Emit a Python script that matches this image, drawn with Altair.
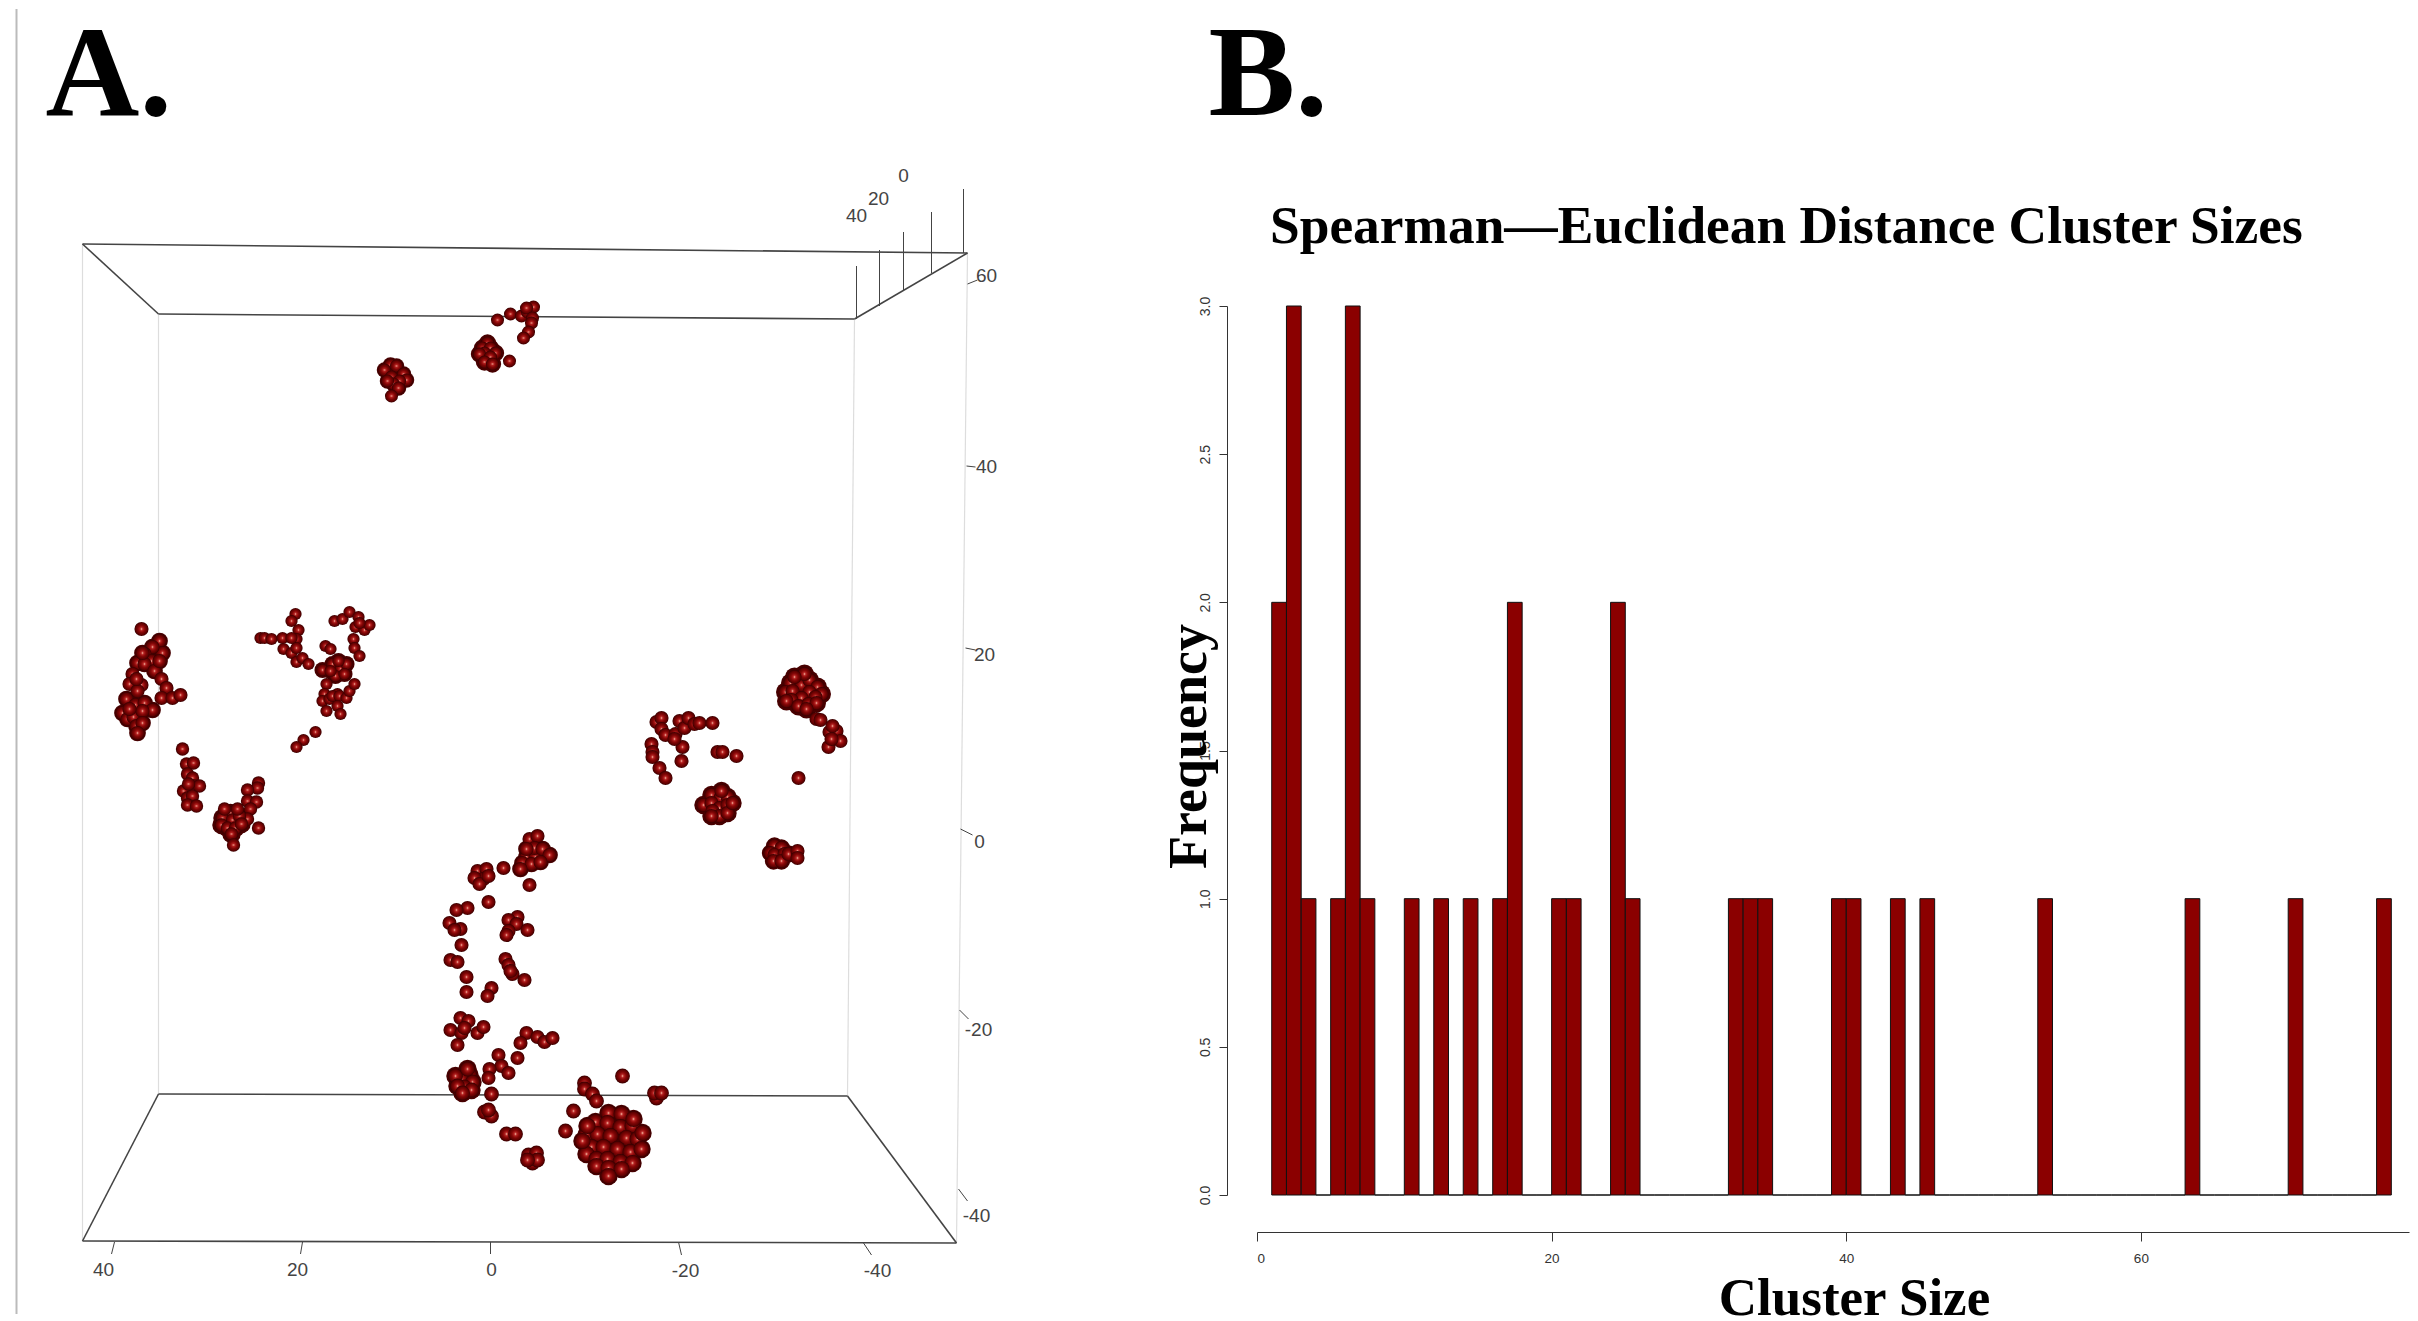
import altair as alt
import pandas as pd

# ---------- Panel B: cluster size histogram ----------
bin_start = list(range(1, 77))
nonzero = {1: 2, 2: 3, 3: 1, 5: 1, 6: 3, 7: 1, 10: 1, 12: 1, 14: 1, 16: 1, 17: 2, 20: 1, 21: 1,
           24: 2, 25: 1, 32: 1, 33: 1, 34: 1, 39: 1, 40: 1, 43: 1, 45: 1, 53: 1, 63: 1, 70: 1, 76: 1}
freq = [nonzero.get(b, 0) for b in bin_start]

# ---------- Panel A: projected 3-D positions of the beads, by cluster ----------
top_x = [-0.7,-2.0,-3.1,-3.7,-4.3,-3.6,-4.2,-4.1,-3.8,-3.3, 0.3,0.8,0.0,-0.5,0.6,1.1,0.0,0.6,-0.2,-1.9,
         10.0,10.6,9.4,9.9,8.7,8.4,9.1,9.7,10.3,9.2,9.9]
top_y = [51.3,51.9,51.7,52.1,52.6,52.5,51.5,51.0,50.1,49.5, 49.0,48.5,48.5,48.0,48.0,47.9,47.6,47.1,46.9,47.2,
         46.8,46.3,46.7,45.6,45.9,45.3,45.2,44.9,45.2,44.5,43.7]

left_x = [34.9, 33.1,32.8,33.8,34.6,35.3,33.9,34.6,33.6,33.1,34.8, 35.8,36.1,34.9,35.3,35.4,
          32.9,32.4,32.9,31.8,31.0, 36.4,36.8,35.5,34.6,33.8,36.3,35.7,34.8,35.4,34.8,35.3,36.1]
left_y = [20.4, 19.2,18.0,18.6,17.9,17.0,17.2,16.9,16.2,17.2,18.0, 15.9,14.9,14.8,14.2,15.4,
          15.4,14.5,13.5,13.5,13.8, 13.4,12.0,12.8,13.0,12.3,11.4,11.6,12.2,10.7,11.0,10.0,12.4]

mid_x = [19.5,19.9, 23.0,22.6,21.9,20.8,19.2,19.4,20.7,19.9,19.4,19.4,18.8,18.2,19.9,
         15.6,14.8,14.1,13.2,13.5,12.6,12.1,13.1, 13.7,13.6,13.1, 16.5,16.0,
         15.8,15.0,14.4,15.2,15.5,14.6,16.8,16.0,
         16.4,16.6,16.8,16.4,16.1,15.3,15.8,15.1,14.4,14.1,13.6,15.3,15.0, 17.5,18.7,19.4]
mid_y = [21.9,21.2, 19.5,19.5,19.4,19.5,20.3,19.4,18.4,18.0,17.1,18.5,17.5,16.9,19.5,
         21.2,21.4,22.1,21.6,20.6,20.3,20.8,21.0, 19.4,18.5,17.7, 18.7,18.4,
         16.9,16.4,16.9,17.2,15.7,15.9,16.3,16.2,
         14.9,13.9,13.2,12.2,13.4,13.9,13.7,13.7,13.5,14.2,14.9,12.7,11.9, 10.1,9.3,8.6]

lower_left_x = [30.8,30.4,29.7,30.3,29.8,29.6,30.7,30.3,29.8,30.3,29.4,29.1,30.2,
                23.2,23.3,24.3,24.3,23.4,24.0,24.3,
                26.0,26.8,25.8,25.1,26.9,26.3,25.5,24.9,25.9,23.2,25.7,26.6,25.3]
lower_left_y = [8.4,6.9,7.0,5.9,5.5,4.7,4.2,3.5,3.7,2.8,2.7,4.7,4.9,
                5.0,4.5,4.3,3.2,3.1,2.4,1.4,
                2.0,1.5,1.3,1.7,0.8,0.5,0.5,0.9,-0.1,0.5,-1.2,2.4,2.4]

right_x = [-16.6,-17.1,-17.1,-17.5,-18.5,-18.9,-19.4,-19.8,-20.4,-20.9,-22.2,-19.2,-18.4,
           -16.1,-16.2,-16.2,-16.9,-17.5,-19.1,-22.7,-23.2,-24.6,
           -31.0,-30.0,-31.1,-31.9,-32.7,-29.5,-30.2,-31.9,-33.1,-31.1,-32.5,-30.1,-29.6,-30.8,-31.8,-32.6,-31.6,-31.4,-30.4,
           -32.6,-33.0,-33.9,-34.6,-34.2,-35.0,-33.8,-34.1, -30.8,
           -22.1,-23.0,-23.7,-21.3,-22.1,-22.9,-23.7,-22.2,-22.9,-23.7,-23.1,-24.2,-22.1,
           -28.4,-29.1,-28.0,-28.4,-29.4,-28.3,-29.1,-29.8,-30.7,-30.7]
right_y = [11.1,11.5,10.4,9.8,9.9,11.2,10.5,11.5,10.9,11.0,11.0,8.6,9.4,
           8.9,8.1,7.6,6.5,5.5,7.2,8.1,8.1,7.7,
           15.6,15.0,14.8,15.3,14.6,14.1,14.2,14.1,13.9,13.5,13.6,13.3,13.2,12.7,12.9,13.0,12.4,15.9,15.6,
           11.4,11.3,10.1,10.2,10.7,9.2,8.6,9.4, 5.5,
           3.8,3.5,3.6,2.8,3.0,2.5,2.8,2.2,1.7,2.0,4.2,3.0,1.7,
           -1.3,-1.5,-2.0,-2.2,-2.1,-2.8,-2.8,-2.1,-1.8,-2.5]

center_x = [-3.9,-4.7,-3.6,-4.5,-4.4,-5.2,-5.9,-3.2,-4.1,-5.0,-3.0,-3.6,-3.9,-1.3,
            1.3,0.4,0.7,1.6,1.1,0.2,0.2,2.3,3.4,4.1,3.0,2.9,3.6,4.0,3.3,2.4,2.4,-0.1,0.3,
            -2.7,-1.8,-2.6,-1.8,-1.6,-3.7,-1.5,-1.8,-2.2,-2.0,-3.4,
            3.0,2.2,4.0,2.9,3.3,1.3,0.7,2.6,-3.6,-3.0,-4.7,-5.4,-6.2,
            -0.8,-2.7,-1.1,-1.8,0.1,0.2]
center_y = [-0.6,-0.3,-2.4,-2.4,-1.5,-1.6,-2.2,-3.0,-3.1,-2.9,-3.6,-1.6,-5.2,-3.5,
            -3.8,-3.6,-4.6,-4.5,-5.1,-4.3,-6.9,-7.5,-7.7,-9.0,-9.6,-11.2,-9.7,-12.7,-12.9,-14.4,-15.9,-15.5,-16.3,
            -8.4,-8.7,-9.1,-9.8,-10.2,-9.7,-12.6,-13.2,-14.1,-13.8,-14.7,
            -18.5,-18.8,-19.7,-20.0,-21.2,-20.0,-19.4,-19.5,-20.0,-21.0,-20.4,-20.9,-20.5,
            -22.2,-22.5,-23.3,-24.0,-23.6,-24.5]

bottom_x = [2.1,2.9,1.8,3.5,2.6,3.3,1.9,2.8,2.3,-0.1,0.6,-0.1,0.2,-1.6,-2.5,-3.8,-4.6,-4.2,-4.7,-3.7,
            -13.2,-9.4,-9.4,-10.2,-10.6,-8.3,-7.5,-16.6,-16.4,-17.1]
bottom_y = [-24.2,-24.6,-24.9,-24.3,-25.4,-25.3,-25.7,-26.0,-23.6,-26.1,-27.9,-28.3,-27.7,-30.1,-30.1,-32.2,-32.0,-33.0,-32.7,-32.7,
            -24.3,-25.0,-25.6,-26.1,-26.8,-27.8,-29.8,-26.5,-26.0,-26.0]

big_x = [-11.8,-13.1,-10.5,-11.7,-13.0,-14.2,-14.3,-9.6,-10.7,-12.0,-13.6,-14.7,-15.2,-10.1,-11.3,-12.7,
         -14.0,-15.1,-9.6,-10.6,-11.7,-13.0,-14.2,-10.6,-11.8,-13.1,-11.8,-9.7,-9.2]
big_y = [-28.0,-28.1,-28.9,-29.0,-29.4,-29.3,-28.6,-30.2,-30.1,-30.3,-30.5,-30.6,-30.0,-31.4,-31.4,-31.6,
         -31.9,-31.6,-32.1,-32.6,-32.6,-32.9,-33.0,-33.3,-33.5,-33.6,-34.3,-29.3,-30.8]

# 3-D box edges and tick lines as projected onto the picture plane
box_dark = [(40.8,58.9,-47.7,58.0),(40.8,58.9,33.2,51.9),(33.2,51.9,-36.4,51.4),(-36.4,51.4,-47.7,58.0),
            (33.2,-26.1,-35.7,-26.3),(33.2,-26.1,40.8,-40.8),(-35.7,-26.3,-46.6,-41.0),(40.8,-40.8,-46.6,-41.0)]
box_light = [(40.8,58.9,40.8,-40.8),(33.2,51.9,33.2,-26.1),(-36.4,51.4,-35.7,-26.3),(-47.7,58.0,-46.6,-41.0)]
tick_segs = [(37.6,-40.9,37.9,-42.1),(18.8,-40.9,19.0,-42.1),(0,-40.9,0,-42.1),(-18.8,-40.9,-19.1,-42.2),(-37.3,-41.0,-38.1,-42.2),
             (-47.7,54.9,-48.7,55.3),(-47.6,36.7,-48.5,36.6),(-47.5,18.5,-48.5,18.3),(-47.0,0.4,-48.2,-0.2),(-46.9,-17.7,-47.8,-18.6),(-46.8,-35.6,-47.7,-36.8),
             (-47.3,64.4,-47.3,58.0),(-44.1,62.1,-44.1,56.0),(-41.3,60.1,-41.3,54.2),(-38.9,58.3,-38.9,52.7),(-36.6,56.7,-36.6,51.4)]
tick_text = ["40","20","0","-20","-40","60","40","20","0","-20","-40","0","20","40"]
tick_text_x = [38.7,19.3,-0.1,-19.5,-38.7,-49.6,-49.6,-49.4,-48.9,-48.8,-48.6,-41.3,-38.8,-36.6]
tick_text_y = [-43.7,-43.7,-43.7,-43.8,-43.8,55.7,36.6,17.8,-0.9,-19.7,-38.3,65.7,63.4,61.7]
divider = [(47.4,82.4,47.4,-48.1)]
panel_text = ["A.", "B."]
panel_text_x = [44.5, -71.8]
panel_text_y = [71.8, 71.8]

# ---------- Styling ----------
SERIF = "Liberation Serif"
SANS = "Liberation Sans"
AXC = "#333333"
xs = alt.Scale(domain=[47.4, -62.6], nice=False, zero=False)
ys = alt.Scale(domain=[-36.2, 52.7], nice=False, zero=False)
X = alt.X("x:Q", scale=xs, axis=None)
Y = alt.Y("y:Q", scale=ys, axis=None)

def seg_layer(segs, color, width):
    df = pd.DataFrame(segs, columns=["x", "y", "x2", "y2"])
    return alt.Chart(df).mark_rule(color=color, strokeWidth=width, clip=False).encode(
        x=X, y=Y, x2="x2:Q", y2="y2:Q")

bead_fill = alt.Gradient(gradient="radial", x1=0.5, y1=0.5, x2=0.5, y2=0.5, r1=0, r2=0.5,
                         stops=[alt.GradientStop(offset=0, color="#f6c0a8"),
                                alt.GradientStop(offset=0.2, color="#b82222"),
                                alt.GradientStop(offset=0.5, color="#840606"),
                                alt.GradientStop(offset=0.85, color="#5a0000"),
                                alt.GradientStop(offset=1, color="#2e0000")])

def bead_layer(xv, yv, size):
    df = pd.DataFrame({"x": xv, "y": yv})
    return alt.Chart(df).mark_point(filled=True, shape="circle", size=size, fill=bead_fill,
                                    opacity=1, clip=False).encode(x=X, y=Y)

def backing_layer(xv, yv, size):
    # dense clusters read as solid balls: hidden rear beads show as a dark mass behind the front ones
    df = pd.DataFrame({"x": xv, "y": yv})
    return alt.Chart(df).mark_point(filled=True, shape="circle", size=size, fill="#470000",
                                    opacity=1, clip=False).encode(x=X, y=Y)

txt_df = pd.DataFrame({"x": tick_text_x, "y": tick_text_y, "t": tick_text})
tick_labels = alt.Chart(txt_df).mark_text(font=SANS, fontSize=19, color="#444444", clip=False).encode(
    x=X, y=Y, text="t:N")
big_df = pd.DataFrame({"x": panel_text_x, "y": panel_text_y, "t": panel_text})
big_labels = alt.Chart(big_df).mark_text(font=SERIF, fontSize=130, fontWeight="bold", color="#000000",
                                         align="left", baseline="alphabetic", clip=False).encode(
    x=X, y=Y, text="t:N")

panel_a = alt.layer(
    seg_layer(divider, "#bbbbbb", 2),
    seg_layer(box_light, "#dddddd", 1.2),
    seg_layer(box_dark, "#444444", 1.6),
    seg_layer(tick_segs, "#444444", 1),
    tick_labels,
    big_labels,
    backing_layer(top_x[10:19], top_y[10:19], 300),
    backing_layer(top_x[20:30], top_y[20:30], 240),
    backing_layer(left_x[1:11], left_y[1:11], 280),
    backing_layer(left_x[21:], left_y[21:], 280),
    backing_layer(mid_x[28:36], mid_y[28:36], 260),
    backing_layer(lower_left_x[20:29], lower_left_y[20:29], 340),
    backing_layer(right_x[22:41], right_y[22:41], 360),
    backing_layer(right_x[50:63], right_y[50:63], 340),
    backing_layer(right_x[63:71], right_y[63:71], 300),
    backing_layer(center_x[2:12], center_y[2:12], 280),
    backing_layer(bottom_x[:9], bottom_y[:9], 340),
    backing_layer(big_x, big_y, 340),
    bead_layer(top_x, top_y, 170),
    bead_layer(left_x, left_y, 200),
    bead_layer(mid_x, mid_y, 150),
    bead_layer(lower_left_x, lower_left_y, 180),
    bead_layer(right_x, right_y, 200),
    bead_layer(center_x, center_y, 200),
    bead_layer(bottom_x, bottom_y, 220),
    bead_layer(big_x, big_y, 260),
).properties(width=1100, height=889)

hist = pd.DataFrame({"start": bin_start, "freq": freq})
hist["end"] = hist["start"] + 1
hist["base"] = 0
panel_b = alt.Chart(hist).mark_rect(fill="#8B0000", stroke="#111111", strokeWidth=1, strokeOpacity=1, clip=False).encode(
    x=alt.X("start:Q", scale=alt.Scale(domain=[0, 78.2], nice=False, zero=False),
            axis=alt.Axis(values=[0, 20, 40, 60], offset=37, grid=False, tickSize=9, tickColor=AXC,
                          domainColor=AXC, labelColor=AXC, labelFont=SANS, labelFontSize=13.5, labelPadding=10,
                          title="Cluster Size", titleFont=SERIF, titleFontSize=53, titleFontWeight="bold",
                          titleColor="#000000", titleX=597, titleY=82, titleBaseline="alphabetic")),
    x2="end:Q",
    y=alt.Y("freq:Q", scale=alt.Scale(domain=[0, 3], nice=False, zero=True),
            axis=alt.Axis(values=[0, 0.5, 1, 1.5, 2, 2.5, 3], format=".1f", offset=30, grid=False, tickSize=8,
                          tickColor=AXC, domainColor=AXC, labelColor=AXC, labelFont=SANS, labelFontSize=14,
                          labelAngle=270, labelAlign="center", labelBaseline="middle", labelPadding=14,
                          title="Frequency", titleFont=SERIF, titleFontSize=54, titleFontWeight="bold",
                          titleColor="#000000", titleAngle=270, titleX=-22, titleY=440,
                          titleBaseline="alphabetic")),
    y2="base:Q",
).properties(
    width=1152, height=889,
    title=alt.TitleParams("Spearman\u2014Euclidean Distance Cluster Sizes", font=SERIF, fontSize=53.4,
                          fontWeight="bold", color="#000000", anchor="start", frame="group", dx=13, offset=42),
)

chart = alt.hconcat(panel_a, panel_b, spacing=140.5, bounds="flush", padding={"left": 7.5, "top": 0, "right": 0, "bottom": 0},
                    background="white").configure_view(strokeWidth=0, stroke=None)
chart.save("out.html", embed_options={"renderer": "svg", "actions": False})
